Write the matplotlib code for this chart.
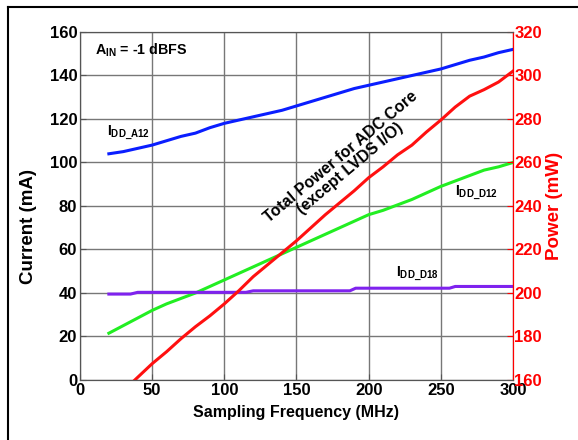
import matplotlib.pyplot as plt
from matplotlib.lines import Line2D

plt.rcParams['font.family'] = 'Liberation Sans'
plt.rcParams['font.weight'] = 'bold'
plt.rcParams['mathtext.fontset'] = 'custom'
plt.rcParams['mathtext.bf'] = 'Liberation Sans:bold'
plt.rcParams['mathtext.rm'] = 'Liberation Sans:bold'
plt.rcParams['mathtext.it'] = 'Liberation Sans:bold'
plt.rcParams['mathtext.default'] = 'bf'

# Sampling frequency grid (MHz) for the current curves
freq = [20, 30, 40, 50, 60, 70, 80, 90, 100, 110, 120, 130, 140, 150, 160,
        170, 180, 190, 200, 210, 220, 230, 240, 250, 260, 270, 280, 290, 300]

# IDD_A12 (mA)
idd_a12 = [104, 105, 106.5, 108, 110, 112, 113.5, 116, 118, 119.5, 121, 122.5,
           124, 126, 128, 130, 132, 134, 135.5, 137, 138.5, 140, 141.5, 143,
           145, 147, 148.5, 150.5, 152]

# IDD_D12 (mA)
idd_d12 = [21.5, 25, 28.5, 32, 35, 37.5, 40, 43, 46, 49, 52, 55, 58, 61, 64,
           67, 70, 73, 76, 78, 80.5, 83, 86, 89, 91.5, 94, 96.5, 98, 100]

# IDD_D18 (mA), stepwise
freq_d18 = [20, 35, 40, 115, 120, 187, 191, 256, 260, 300]
idd_d18 = [39.5, 39.5, 40.3, 40.3, 41.0, 41.0, 42.2, 42.2, 43.0, 43.0]

# Total power for ADC core (mW)
freq_pwr = [38, 50, 60, 70, 80, 90, 100, 110, 120, 130, 140, 150, 160, 170,
            180, 190, 200, 210, 220, 230, 240, 250, 260, 270, 280, 290, 300]
power = [160, 167.5, 173, 179, 184.5, 189.5, 195, 201, 207.5, 213, 218.5,
         224, 230, 236, 241.5, 247, 253, 258, 263.5, 268, 274, 279.5, 285.5,
         290.5, 293.5, 297, 302]

fig = plt.figure(figsize=(5.78, 4.4), dpi=100)
ax = fig.add_axes([0.1384, 0.1364, 0.7491, 0.7909])
ax2 = ax.twinx()

lw = 2.2
ax.plot(freq, idd_a12, color='#0a1eff', linewidth=lw)
ax.plot(freq, idd_d12, color='#22ee22', linewidth=lw)
ax.plot(freq_d18, idd_d18, color='#7f22ee', linewidth=lw)
ax2.plot(freq_pwr, power, color='#ff1010', linewidth=lw)

ax.set_xlim(0, 300)
ax.set_ylim(0, 160)
ax2.set_ylim(160, 320)
ax.set_xticks(range(0, 301, 50))
ax.set_yticks(range(0, 161, 20))
ax2.set_yticks(range(160, 321, 20))

ax.grid(True, color='#777777', linewidth=1.0)
ax.set_axisbelow(True)

ax.tick_params(direction='in', labelsize=12, length=4, color='#555555', pad=2)
ax2.tick_params(direction='in', labelsize=12, length=4, colors='red', pad=1)
for lab in ax.get_xticklabels() + ax.get_yticklabels() + ax2.get_yticklabels():
    lab.set_fontweight('bold')

for s in ['left', 'top', 'bottom']:
    ax.spines[s].set_color('#555555')
    ax2.spines[s].set_color('#555555')
ax2.spines['right'].set_color('red')
ax.spines['right'].set_color('red')

ax.set_xlabel('Sampling Frequency (MHz)', fontsize=11.5, fontweight='bold', labelpad=5)
ax.set_ylabel('Current (mA)', fontsize=13.5, fontweight='bold')
ax.yaxis.set_label_coords(-0.10, 0.44)
ax2.set_ylabel('Power (mW)', fontsize=13.5, fontweight='bold', color='red', labelpad=3)

ax.text(10.5, 151.5, r'A$_{IN}$ = -1 dBFS', fontsize=10.3, va='center', ha='left')
ax.text(19, 113.5, r'I$_{DD\_A12}$', fontsize=10, va='center', ha='left')
ax.text(260, 86, r'I$_{DD\_D12}$', fontsize=10, va='center', ha='left')
ax.text(219, 49, r'I$_{DD\_D18}$', fontsize=10, va='center', ha='left')
ax.text(184, 100, 'Total Power for ADC Core\n(except LVDS I/O)', fontsize=11.5,
        rotation=40, ha='center', va='center', multialignment='center',
        linespacing=1.05)

# border around the figure (only top and left visible)
fig.add_artist(Line2D([8 / 578, 1], [1 - 7 / 440, 1 - 7 / 440], color='black', linewidth=1.5))
fig.add_artist(Line2D([8 / 578, 8 / 578], [0, 1 - 7 / 440], color='black', linewidth=1.5))

fig.savefig('out.png', dpi=100)
